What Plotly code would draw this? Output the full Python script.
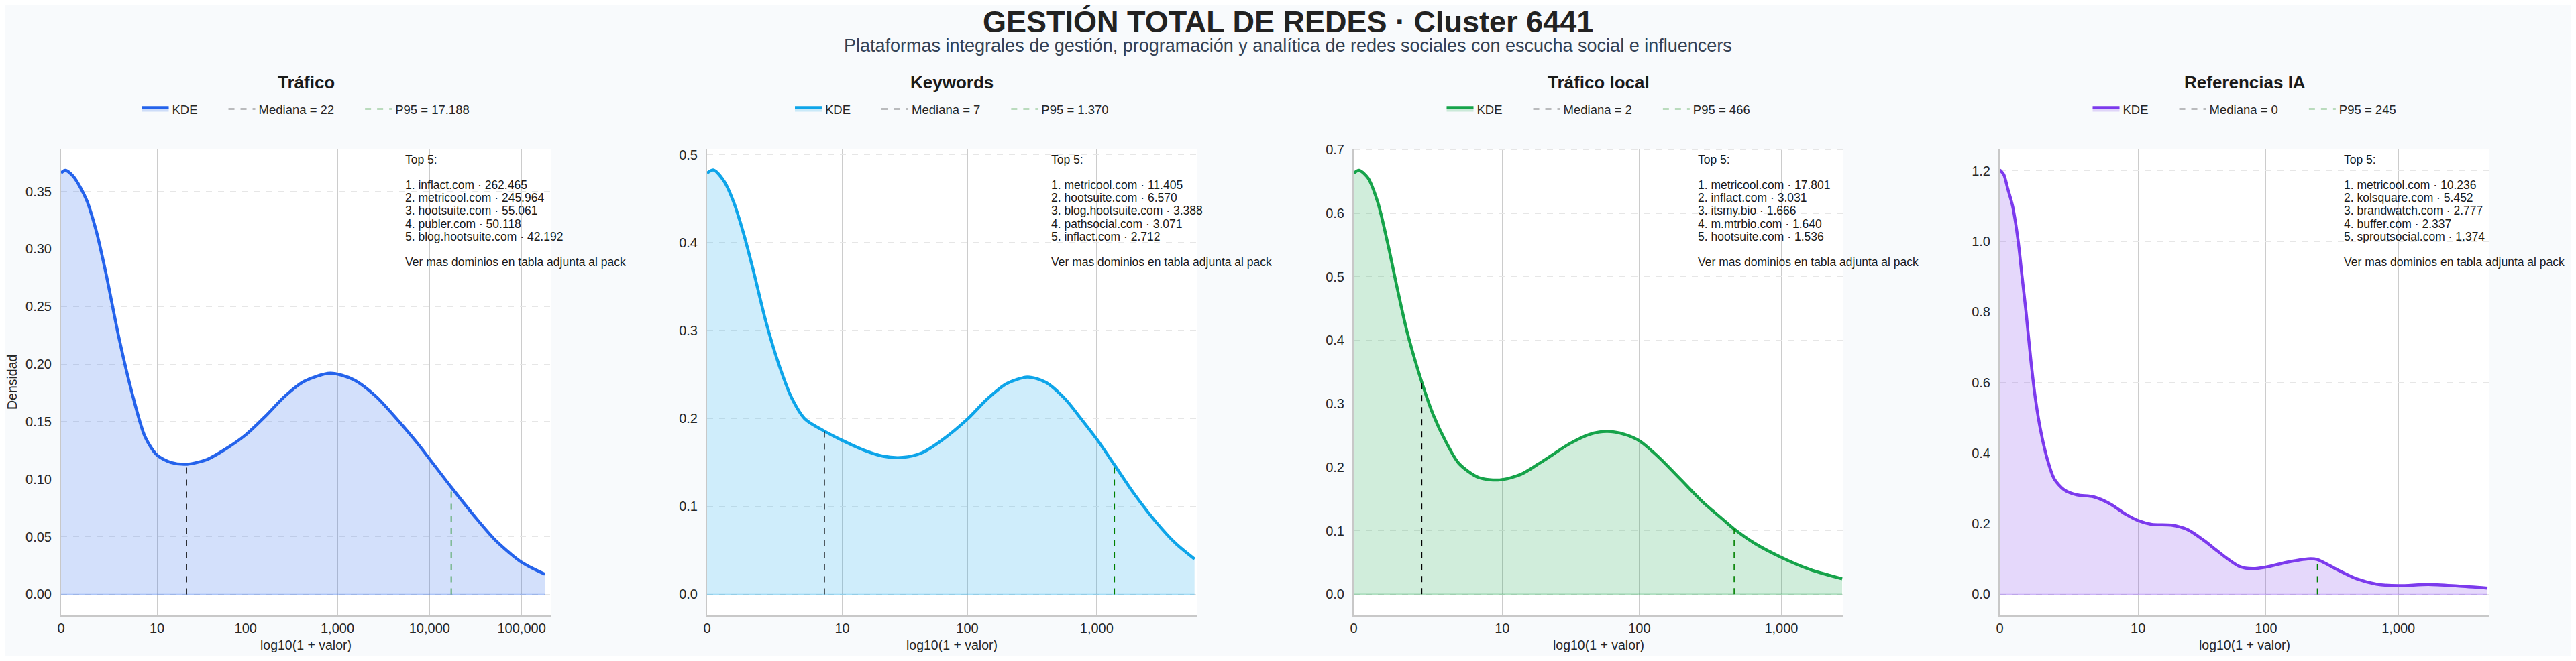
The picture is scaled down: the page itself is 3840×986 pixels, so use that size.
import numpy as np
import plotly.graph_objects as go

# ---------------- datos ----------------
titulos = ["Tráfico", "Keywords", "Tráfico local", "Referencias IA"]
colores = ["#2563eb", "#0ea5e9", "#16a34a", "#7c3aed"]

# KDE sobre log10(1 + valor)
trafico_x = [0, 0.046, 0.134, 0.275, 0.381, 0.487, 0.628, 0.770, 0.911, 1.041, 1.193, 1.370,
             1.581, 1.793, 2.005, 2.217, 2.429, 2.640, 2.923, 3.170, 3.417, 3.664, 3.876,
             4.017, 4.236, 4.476, 4.723, 5.005, 5.252]
trafico_y = [0.366, 0.3684, 0.363, 0.343, 0.316, 0.279, 0.223, 0.175, 0.137, 0.121, 0.1145, 0.113,
             0.117, 0.1265, 0.1385, 0.1545, 0.172, 0.185, 0.192, 0.1866, 0.172, 0.1505, 0.1305,
             0.1158, 0.093, 0.069, 0.0463, 0.0275, 0.0174]

keywords_x = [0, 0.050, 0.130, 0.205, 0.280, 0.355, 0.455, 0.556, 0.656, 0.756, 0.906, 1.041,
              1.206, 1.356, 1.507, 1.657, 1.807, 2.004, 2.157, 2.307, 2.470, 2.608, 2.758,
              2.883, 3.000, 3.138, 3.283, 3.458, 3.609, 3.754]
keywords_y = [0.479, 0.4825, 0.470, 0.446, 0.411, 0.369, 0.309, 0.260, 0.222, 0.199, 0.1853, 0.175,
              0.164, 0.157, 0.1556, 0.161, 0.175, 0.199, 0.222, 0.2395, 0.247, 0.241, 0.222,
              0.199, 0.1766, 0.147, 0.1154, 0.082, 0.0577, 0.040]

local_x = [0, 0.0365, 0.100, 0.169, 0.237, 0.306, 0.374, 0.4746, 0.557, 0.648, 0.739, 0.876,
           1.024, 1.173, 1.332, 1.515, 1.652, 1.777, 1.903, 2.001, 2.131, 2.291, 2.450,
           2.587, 2.667, 2.815, 3.000, 3.203, 3.427]
local_y = [0.663, 0.6677, 0.6555, 0.617, 0.554, 0.481, 0.4136, 0.336, 0.283, 0.2395, 0.2056, 0.1838,
           0.180, 0.1887, 0.2104, 0.237, 0.2516, 0.2564, 0.2516, 0.242, 0.2177, 0.1814, 0.145,
           0.1185, 0.103, 0.0798, 0.058, 0.0387, 0.0242]

ia_x = [0, 0.03, 0.06, 0.097, 0.139, 0.168, 0.198, 0.235, 0.27, 0.31, 0.36, 0.41, 0.4846,
        0.5825, 0.705, 0.827, 0.9496, 1.040, 1.145, 1.292, 1.4146, 1.537, 1.684, 1.806,
        1.904, 2.002, 2.173, 2.320, 2.389, 2.540, 2.687, 2.834, 3.000, 3.226, 3.446, 3.671]
ia_y = [1.203, 1.19, 1.15, 1.1, 1.0, 0.9, 0.8, 0.66, 0.55, 0.46, 0.38, 0.327, 0.296,
        0.2815, 0.2763, 0.257, 0.2266, 0.209, 0.198, 0.196, 0.183, 0.1525, 0.109, 0.0784,
        0.0723, 0.0767, 0.0915, 0.1002, 0.0985, 0.0697, 0.0436, 0.0288, 0.0244, 0.0279, 0.0235, 0.0174]

kde_x = [trafico_x, keywords_x, local_x, ia_x]
kde_y = [trafico_y, keywords_y, local_y, ia_y]

medianas = [22, 7, 2, 0]
medianas_dens = [0.113, 0.187, 0.339, 1.203]
p95 = [17188, 1370, 466, 245]
p95_dens = [0.093, 0.147, 0.103, 0.0985]

ticks_trafico = [0, 10, 100, 1000, 10000, 100000]
ticks_resto = [0, 10, 100, 1000]
xticks = [ticks_trafico, ticks_resto, ticks_resto, ticks_resto]

top5_trafico = [("inflact.com", 262465), ("metricool.com", 245964), ("hootsuite.com", 55061),
                ("publer.com", 50118), ("blog.hootsuite.com", 42192)]
top5_keywords = [("metricool.com", 11405), ("hootsuite.com", 6570), ("blog.hootsuite.com", 3388),
                 ("pathsocial.com", 3071), ("inflact.com", 2712)]
top5_local = [("metricool.com", 17801), ("inflact.com", 3031), ("itsmy.bio", 1666),
              ("m.mtrbio.com", 1640), ("hootsuite.com", 1536)]
top5_ia = [("metricool.com", 10236), ("kolsquare.com", 5452), ("brandwatch.com", 2777),
           ("buffer.com", 2337), ("sproutsocial.com", 1374)]
top5 = [top5_trafico, top5_keywords, top5_local, top5_ia]

titulo = "GESTIÓN TOTAL DE REDES · Cluster 6441"
subtitulo = ("Plataformas integrales de gestión, programación y analítica de redes sociales "
             "con escucha social e influencers")
pie_top5 = "Ver mas dominios en tabla adjunta al pack"

# ---------------- maquetación ----------------
OFF = 8                      # margen por defecto del <body> de la página
W, H = 3840 - OFF, 986 - 2 * OFF
FONT = "Liberation Sans, Arial, Helvetica, sans-serif"
PX_LEFT = [91, 1054, 2018, 2981]
PX_WIDTH = 730
PX_TOP, PX_BOTTOM = 222, 918
X_MAX = [5.316, 3.771, 3.436, 3.686]
Y_RANGE = [(-0.0184, 0.387), (-0.0241, 0.5066), (-0.0334, 0.7014), (-0.0601, 1.2627)]
Y_DTICK = [0.05, 0.1, 0.1, 0.2]
Y_FMT = [".2f", ".1f", ".1f", ".1f"]
PAD = "\u00a0" * 7


def py(px):
    return 1 - (px - OFF) / H


def px_x(px):
    return (px - OFF) / W


def miles(v):
    return f"{v:,}".replace(",", ".")


def rgba(hexc, a):
    h = hexc.lstrip("#")
    r, g, b = int(h[0:2], 16), int(h[2:4], 16), int(h[4:6], 16)
    return f"rgba({r},{g},{b},{a})"


fig = go.Figure()
layout = dict(
    width=W, height=H, autosize=False,
    margin=dict(l=0, r=0, t=0, b=0),
    paper_bgcolor="#f8fafc", plot_bgcolor="#ffffff",
    font=dict(family=FONT, color="#262626"),
    annotations=[], showlegend=True,
)

for i in range(4):
    k = "" if i == 0 else str(i + 1)
    xa, ya = "x" + k, "y" + k
    leg = "legend" + k
    col = colores[i]
    xs, ys = kde_x[i], kde_y[i]

    # borde inferior del relleno
    fig.add_trace(go.Scatter(x=[xs[0], xs[-1]], y=[0, 0], mode="lines",
                             line=dict(color=rgba(col, 0.3), width=1.5),
                             showlegend=False, hoverinfo="skip", xaxis=xa, yaxis=ya))
    fig.add_trace(go.Scatter(x=xs, y=ys, mode="lines", name="KDE" + PAD,
                             line=dict(color=col, width=4.5, shape="spline", smoothing=0.8),
                             fill="tozeroy", fillcolor=rgba(col, 0.2),
                             xaxis=xa, yaxis=ya, legend=leg))
    xm = float(np.log10(1 + medianas[i]))
    # con mediana 0 la línea queda bajo el eje y no se ve
    mx = [xm, xm] if medianas[i] > 0 else [None, None]
    fig.add_trace(go.Scatter(x=mx, y=[0, medianas_dens[i]], mode="lines",
                             name=f"Mediana = {miles(medianas[i])}" + PAD,
                             line=dict(color="black", width=1.6, dash="dash"),
                             xaxis=xa, yaxis=ya, legend=leg))
    xp = float(np.log10(1 + p95[i]))
    fig.add_trace(go.Scatter(x=[xp, xp], y=[0, p95_dens[i]], mode="lines",
                             name=f"P95 = {miles(p95[i])}",
                             line=dict(color="#008000", width=1.6, dash="dash"),
                             xaxis=xa, yaxis=ya, legend=leg))

    left, right = PX_LEFT[i], PX_LEFT[i] + PX_WIDTH
    layout["xaxis" + k] = dict(
        domain=[px_x(left), px_x(right)], range=[0, X_MAX[i]], anchor=ya,
        tickmode="array",
        tickvals=[float(np.log10(1 + v)) for v in xticks[i]],
        ticktext=[f"{v:,}" for v in xticks[i]],
        showgrid=True, gridcolor="#cccccc", gridwidth=1.3,
        showline=True, linecolor="#c8c8c8", linewidth=2, mirror=False,
        zeroline=False, ticks="", tickfont=dict(size=20, color="#262626"),
        title=dict(text="log10(1 + valor)", font=dict(size=19.5, color="#262626"), standoff=8),
        automargin=False, fixedrange=True,
    )
    layout["yaxis" + k] = dict(
        domain=[py(PX_BOTTOM), py(PX_TOP)], range=list(Y_RANGE[i]), anchor=xa,
        tick0=0, dtick=Y_DTICK[i], tickformat=Y_FMT[i],
        showgrid=True, gridcolor="#e6e6e6", gridwidth=1, griddash="dash",
        showline=True, linecolor="#c8c8c8", linewidth=2, mirror=False,
        zeroline=False, ticks="", ticklabelstandoff=8,
        tickfont=dict(size=20, color="#262626"),
        automargin=False, fixedrange=True,
    )
    cx = px_x(left + PX_WIDTH / 2)
    layout[leg] = dict(orientation="h", x=cx, xanchor="center", y=py(163), yanchor="middle",
                       font=dict(size=18.5, color="#262626"), bgcolor="rgba(0,0,0,0)",
                       itemwidth=40)
    # título del panel
    layout["annotations"].append(dict(
        text=f"<b>{titulos[i]}</b>", x=cx, y=py(123), xref="paper", yref="paper",
        xanchor="center", yanchor="middle", showarrow=False,
        font=dict(size=26, color="#1a1a1a")))
    # bloque Top 5
    lineas = [(0, "Top 5:")]
    for j, (dom, val) in enumerate(top5[i]):
        lineas.append((j + 2, f"{j + 1}. {dom} · {miles(val)}"))
    lineas.append((8, pie_top5))
    for n, txt in lineas:
        layout["annotations"].append(dict(
            text=txt, x=0.70, xref=f"{xa} domain", y=py(237.6 + 19.2 * n), yref="paper",
            xanchor="left", yanchor="middle", showarrow=False,
            font=dict(size=17.5, color="#1a1a1a")))

layout["annotations"] += [
    dict(text=f"<b>{titulo}</b>", x=px_x(1920), y=py(32), xref="paper", yref="paper",
         xanchor="center", yanchor="middle", showarrow=False,
         font=dict(size=45, color="#222222")),
    dict(text=subtitulo, x=px_x(1920), y=py(68), xref="paper", yref="paper",
         xanchor="center", yanchor="middle", showarrow=False,
         font=dict(size=27, color="#334155")),
    dict(text="Densidad", x=px_x(18), y=py((PX_TOP + PX_BOTTOM) / 2), xref="paper", yref="paper",
         xanchor="center", yanchor="middle", textangle=-90, showarrow=False,
         font=dict(size=19.5, color="#262626")),
]

fig.update_layout(**layout)
fig.write_html("out.html")
